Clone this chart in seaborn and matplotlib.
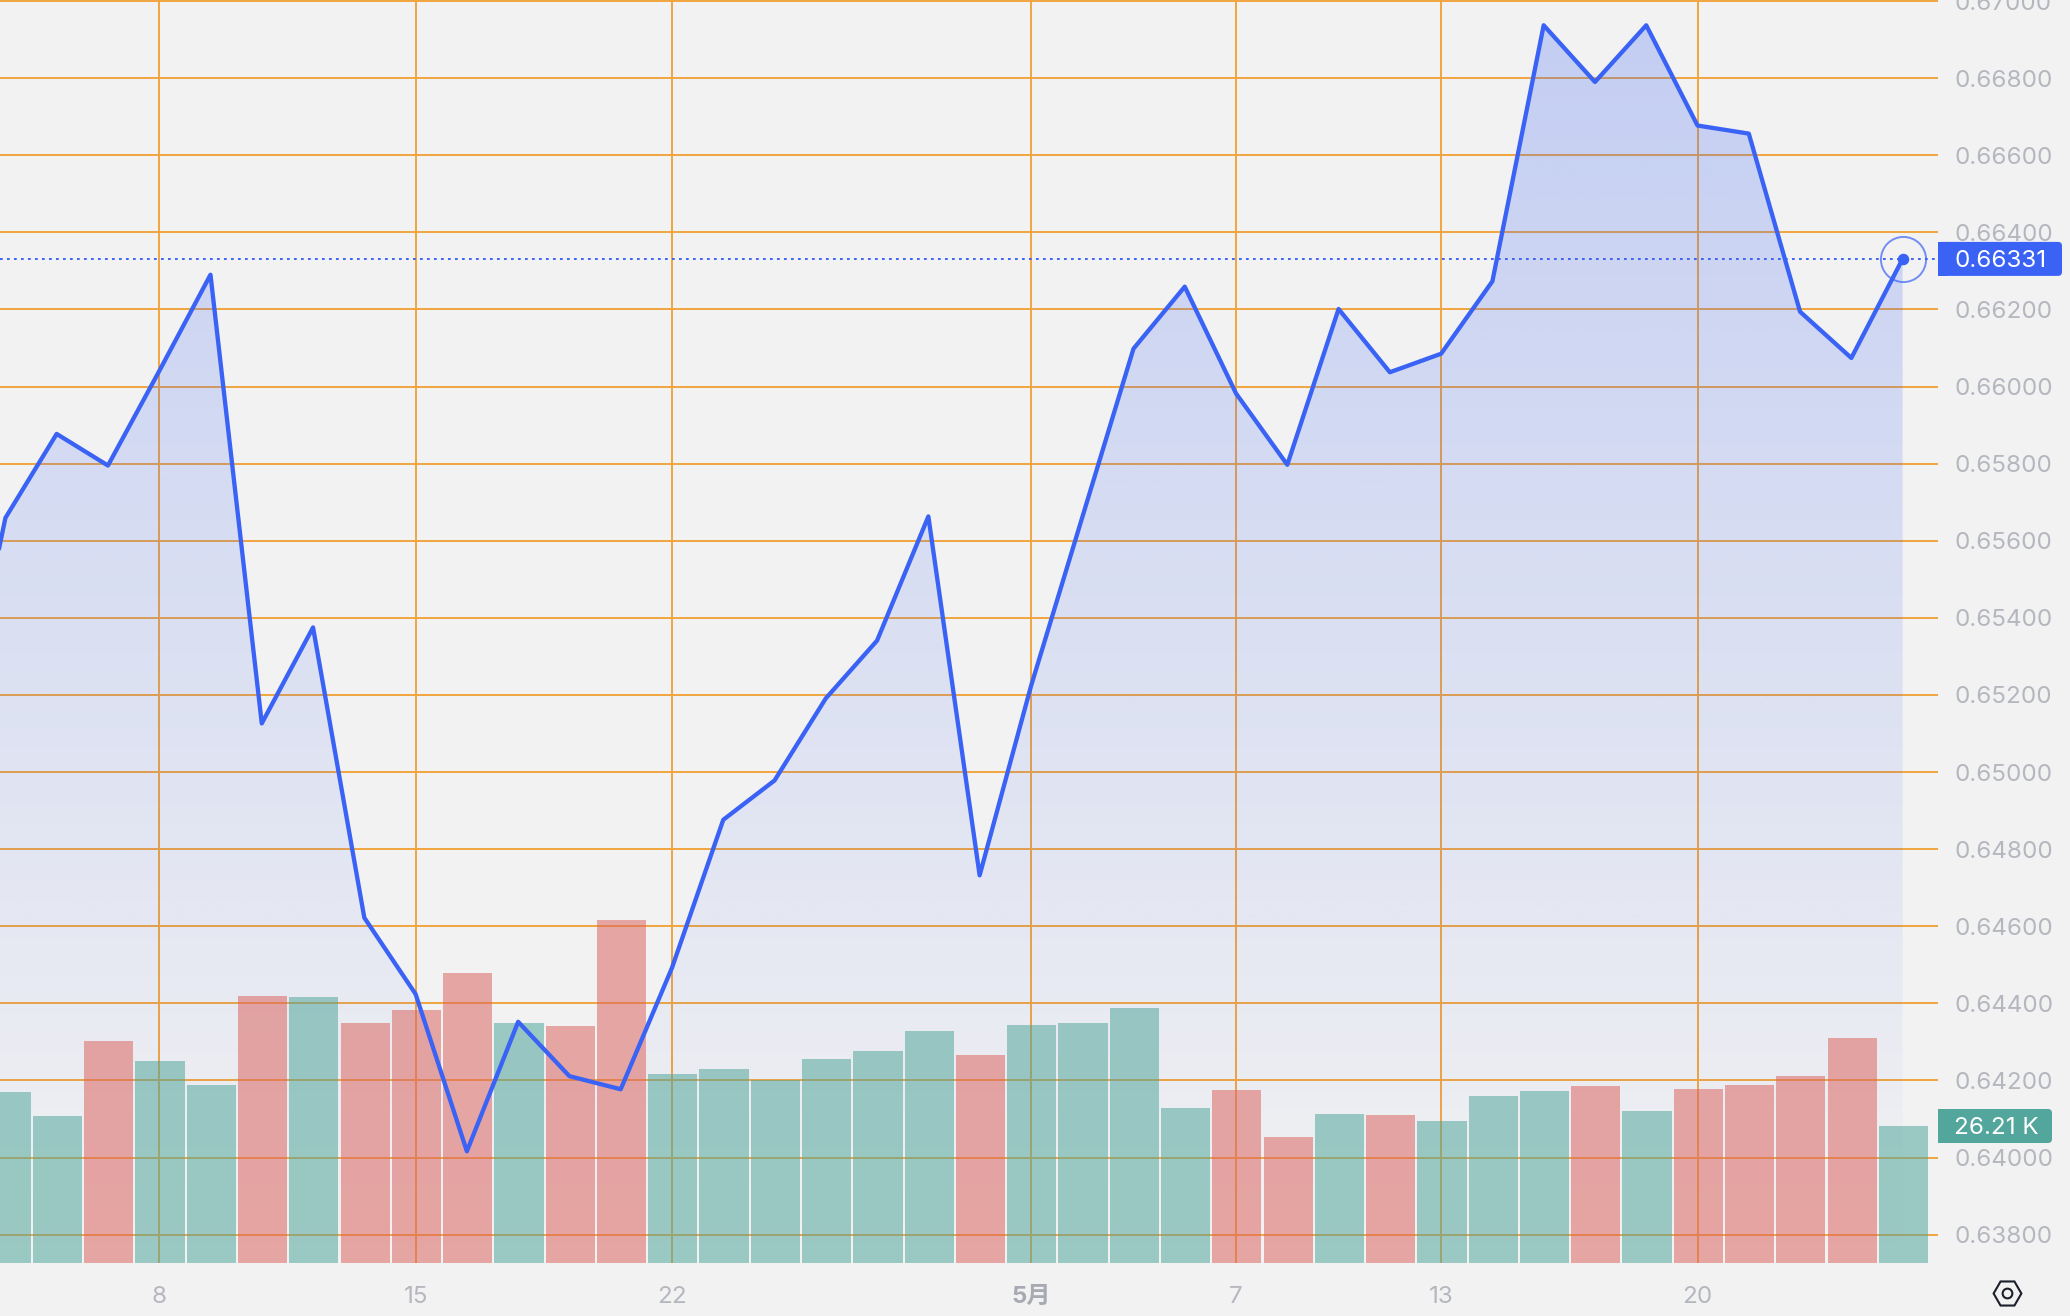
import numpy as np
import pandas as pd
import matplotlib
matplotlib.use("Agg")
import matplotlib.pyplot as plt
from matplotlib.patches import FancyBboxPatch, Rectangle
from matplotlib.transforms import IdentityTransform
from matplotlib.lines import Line2D
import seaborn as sns

# ---- data -----------------------------------------------------------------
positions = list(range(-1, 38))
prices = [0.65016, 0.65659, 0.65877, 0.65795, 0.66040, 0.66290, 0.65126, 0.65375,
          0.64622, 0.64424, 0.64016, 0.64352, 0.64211, 0.64177, 0.64492, 0.64876,
          0.64978, 0.65191, 0.65341, 0.65663, 0.64732, 0.65222, 0.65660, 0.66098,
          0.66259, 0.65982, 0.65797, 0.66201, 0.66037, 0.66085, 0.66273, 0.66937,
          0.66790, 0.66937, 0.66677, 0.66656, 0.66194, 0.66074, 0.66331]
bar_positions = list(range(38))
volumes = [32.8, 28.2, 42.4, 38.6, 34.0, 51.0, 50.8, 45.9, 48.4, 55.4, 45.9, 45.4,
           65.6, 36.1, 37.1, 35.0, 39.1, 40.6, 44.4, 39.8, 45.6, 45.9, 48.7, 29.7,
           33.1, 24.2, 28.5, 28.3, 27.2, 32.0, 33.0, 33.8, 29.1, 33.3, 34.0, 35.8,
           43.1, 26.21]
directions = ["d", "d", "u", "d", "d", "u", "d", "u", "u", "u", "d", "u", "u", "d",
              "d", "d", "d", "d", "d", "u", "d", "d", "d", "d", "u", "u", "d", "u",
              "d", "d", "d", "u", "d", "u", "u", "u", "u", "d"]
x_tick_positions = [3, 8, 13, 20, 24, 28, 33]
x_tick_labels = ["8", "15", "22", "5月", "7", "13", "20"]
y_ticks = [0.638, 0.640, 0.642, 0.644, 0.646, 0.648, 0.650, 0.652, 0.654, 0.656,
           0.658, 0.660, 0.662, 0.664, 0.666, 0.668, 0.670]
last_price = 0.66331
last_price_label = "0.66331"
last_volume = 26.21
last_volume_label = "26.21 K"

# ---- style ----------------------------------------------------------------
W, H = 2070, 1316
PLOT_R, PLOT_B = 1938, 1263
BG = "#f2f2f2"
BLUE = "#3a63f5"
ORANGE = "#f0a43f"
TEAL = "#53a69b"
RED = "#dc6660"
GREY = "#b5b7bf"
FS = 17.4
BAR_SHIFT = 0.016

sns.set_theme(style="white")
plt.rcParams["font.family"] = ["Inter", "Noto Sans CJK SC", "DejaVu Sans"]

fig = plt.figure(figsize=(W / 100, H / 100), dpi=100, facecolor=BG)
rect = [0, (H - PLOT_B) / H, PLOT_R / W, PLOT_B / H]
ax = fig.add_axes(rect, facecolor=BG)
ax_vol = ax.twinx()
ax_line = ax.twinx()

xlim = (-0.105, 37.69)
ylim = (0.67 - (PLOT_B - 1.0) * 0.002 / 77.1, 0.67 + 1.0 * 0.002 / 77.1)
vol_top = PLOT_B / 137.0 * last_volume

# base layer: grid, gradient fill
ax.set_xlim(xlim)
ax.set_ylim(ylim)
ax.set_xticks(x_tick_positions)
ax.set_xticklabels(x_tick_labels)
ax.set_yticks(y_ticks)
ax.set_yticklabels([f"{v:.5f}" for v in y_ticks])
ax.yaxis.tick_right()
ax.grid(True, color=ORANGE, lw=1.4, zorder=0)
ax.set_axisbelow(True)
ax.tick_params(axis="both", length=0, colors=GREY, labelsize=FS)
ax.tick_params(axis="y", pad=11.8)
ax.tick_params(axis="x", pad=16.5)
for lab, txt in zip(ax.get_xticklabels(), x_tick_labels):
    if txt == "5月":
        lab.set_fontweight("bold")
        lab.set_color("#a8aab3")
for a in (ax, ax_vol, ax_line):
    for s in a.spines.values():
        s.set_visible(False)

poly = ax.fill_between(positions, prices, ylim[0], color="none", lw=0)
grad = np.zeros((256, 1, 4))
grad[..., :3] = matplotlib.colors.to_rgb(BLUE)
grad[..., 3] = np.linspace(0.26, 0.0, 256)[:, None]
img = ax.imshow(grad, extent=(xlim[0], xlim[1], ylim[0], ylim[1]), aspect="auto",
                origin="upper", zorder=1, interpolation="bilinear")
img.set_clip_path(poly.get_paths()[0], ax.transData)
ax.set_xlim(xlim)
ax.set_ylim(ylim)

# bars
df_vol = pd.DataFrame({"pos": np.array(bar_positions) + BAR_SHIFT, "vol": volumes,
                       "dir": directions})
sns.barplot(data=df_vol, x="pos", y="vol", hue="dir", native_scale=True, dodge=False,
            palette={"u": RED, "d": TEAL}, alpha=0.55, saturation=1, width=0.96,
            errorbar=None, legend=False, ax=ax_vol, linewidth=0)
ax_vol.set_xlim(xlim)
ax_vol.set_ylim(0, vol_top)
ax_vol.set_xlabel("")
ax_vol.set_ylabel("")
ax_vol.set_yticks([])
ax_vol.grid(False)
ax_vol.patch.set_visible(False)

# line
df_line = pd.DataFrame({"pos": positions, "price": prices})
sns.lineplot(data=df_line, x="pos", y="price", color=BLUE, lw=3.1, ax=ax_line,
             estimator=None, errorbar=None, solid_joinstyle="round")
ax_line.set_xlim(xlim)
ax_line.set_ylim(ylim)
ax_line.set_xlabel("")
ax_line.set_ylabel("")
ax_line.set_yticks([])
ax_line.grid(False)
ax_line.patch.set_visible(False)
ax_line.axhline(last_price, color=BLUE, lw=1.4, dashes=(1.4, 2.2))
ax_line.plot([positions[-1]], [last_price], "o", ms=8.3, color=BLUE, mew=0)
ax_line.plot([positions[-1]], [last_price], "o", ms=32.5, mfc="none", mec=BLUE,
             mew=1.4, alpha=0.7)

# price / volume tags
fig.canvas.draw()
px = IdentityTransform()


def tag(yc, right, color, text, tx):
    h = 34
    fig.add_artist(FancyBboxPatch((PLOT_R + 3, yc - h / 2 + 3), right - PLOT_R - 6, h - 6,
                                  boxstyle="round,pad=3,rounding_size=4",
                                  fc=color, ec="none", transform=px))
    fig.add_artist(Rectangle((PLOT_R, yc - h / 2), 10, h, fc=color, ec="none", transform=px))
    fig.text(tx / W, yc / H, text, color="white", fontsize=FS, va="center_baseline",
             ha="left")


yp = ax.transData.transform((0, last_price))[1]
yv = ax_vol.transData.transform((0, last_volume))[1]
tag(yp, 2062, BLUE, last_price_label, 1954)
tag(yv, 2052, TEAL, last_volume_label, 1954)

# settings icon
icon_x, icon_y = 2007 / W, (H - 1293) / H
fig.add_artist(Line2D([icon_x], [icon_y], marker="H", ms=20, mfc="none", mec="#1b1f2a",
                      mew=1.5, transform=fig.transFigure))
fig.add_artist(Line2D([icon_x], [icon_y], marker="o", ms=7, mfc="none", mec="#1b1f2a",
                      mew=1.5, transform=fig.transFigure))

fig.savefig("out.png", dpi=100, facecolor=BG)
